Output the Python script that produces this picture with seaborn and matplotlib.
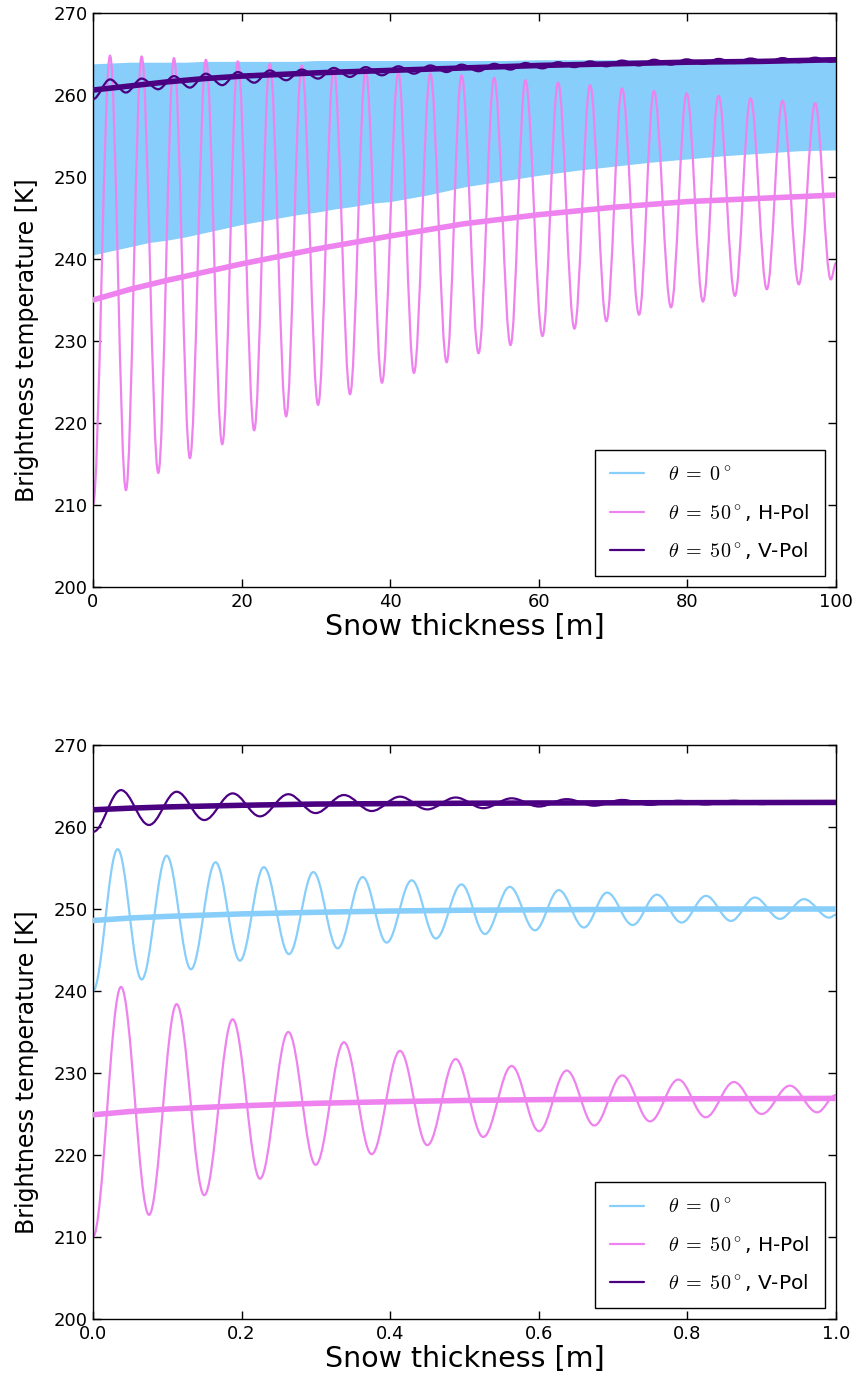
import numpy as np
import matplotlib
matplotlib.use("Agg")
import matplotlib.pyplot as plt
import seaborn as sns
from matplotlib.lines import Line2D
from matplotlib.path import Path
from matplotlib.patches import PathPatch

# ---------------- data: top panel (0-100 m) ----------------
top_peak_x = [2.3, 6.55, 10.9, 15.2, 19.5, 23.8, 28.1, 32.4, 36.7, 41.1, 45.4, 49.6,
              54.0, 58.2, 62.6, 66.9, 71.2, 75.5, 79.9, 84.2, 88.5, 92.8, 97.2]
top_trough_x = [4.44, 8.79, 13.05, 17.4, 21.7, 26.0, 30.3, 34.6, 38.9, 43.2, 47.6, 51.9,
                56.2, 60.5, 64.8, 69.1, 73.5, 77.8, 82.1, 86.4, 90.7, 95.0, 99.3]
top_h_peak = [264.8, 264.7, 264.5, 264.3, 264.1, 263.8, 263.6, 263.3, 263.0, 262.8, 262.6, 262.4,
              262.1, 261.8, 261.5, 261.2, 260.8, 260.5, 260.2, 259.9, 259.6, 259.3, 259.0]
top_h_trough = [211.8, 213.9, 215.7, 217.4, 219.1, 220.8, 222.2, 223.5, 224.9, 226.1, 227.4, 228.5,
                229.5, 230.6, 231.5, 232.4, 233.2, 234.1, 234.8, 235.5, 236.3, 236.9, 237.5]
top_h_ends = [210.0, 239.5]
top_v_peak = [261.9, 262.0, 262.3, 262.6, 262.8, 263.0, 263.1, 263.3, 263.4, 263.5, 263.6, 263.7,
              263.8, 263.9, 264.0, 264.1, 264.2, 264.3, 264.35, 264.4, 264.45, 264.5, 264.55]
top_v_trough = [260.3, 260.7, 260.9, 261.2, 261.5, 261.8, 262.0, 262.2, 262.4, 262.6, 262.8, 262.9,
                263.1, 263.25, 263.4, 263.5, 263.6, 263.7, 263.8, 263.9, 263.95, 264.0, 264.05]
top_v_ends = [259.5, 264.1]

top_smooth_x = [0, 5, 10, 15, 20, 25, 30, 35, 40, 50, 60, 70, 80, 90, 100]
top_h_smooth = [235.0, 236.3, 237.4, 238.4, 239.4, 240.3, 241.2, 242.0, 242.8, 244.3, 245.4,
                246.3, 247.0, 247.4, 247.8]
top_v_smooth = [260.6, 261.1, 261.6, 262.0, 262.3, 262.5, 262.7, 262.85, 263.0, 263.3, 263.6,
                263.8, 264.0, 264.1, 264.3]

top_band_x = [0, 2.5, 5, 7.5, 10, 12.5, 15, 17.5, 20, 22.5, 25, 27.5, 30, 32.5, 35, 37.5, 40,
              45, 50, 55, 60, 65, 70, 75, 80, 85, 90, 95, 100]
top_band_low = [240.5, 241.0, 241.5, 242.0, 242.3, 242.7, 243.2, 243.7, 244.2, 244.6, 245.0,
                245.4, 245.7, 246.1, 246.4, 246.8, 247.0, 247.8, 248.8, 249.5, 250.2, 250.8,
                251.3, 251.8, 252.2, 252.6, 252.9, 253.2, 253.3]
top_band_high = [263.8, 263.9, 264.0, 264.0, 264.0, 264.0, 264.1, 264.1, 264.1, 264.1, 264.1,
                 264.1, 264.2, 264.2, 264.2, 264.2, 264.2, 264.2, 264.2, 264.2, 264.3, 264.3,
                 264.3, 264.3, 264.3, 264.3, 264.3, 264.3, 264.3]

# ---------------- data: bottom panel (0-1 m) ----------------
bot_b_peak_x = [0.0332, 0.0992, 0.165, 0.230, 0.2966, 0.363, 0.429, 0.496, 0.561, 0.627,
                0.692, 0.759, 0.825, 0.891, 0.957]
bot_b_peak = [257.3, 256.5, 255.7, 255.1, 254.5, 253.9, 253.5, 253.0, 252.7, 252.3, 252.0,
              251.75, 251.6, 251.4, 251.2]
bot_b_trough_x = [0.0655, 0.1319, 0.1978, 0.2638, 0.3293, 0.3953, 0.4616, 0.5276, 0.5949,
                  0.6608, 0.7264, 0.7923, 0.8587, 0.9246, 0.991]
bot_b_trough = [241.4, 242.65, 243.7, 244.5, 245.2, 245.9, 246.4, 246.95, 247.4, 247.75,
                248.05, 248.35, 248.55, 248.8, 248.95]
bot_b_ends = [240.0, 249.3]

bot_50_peak_x = [0.0377, 0.1126, 0.188, 0.2629, 0.3378, 0.4132, 0.4882, 0.5635, 0.6376,
                 0.7124, 0.7878, 0.8627, 0.938]
bot_50_trough_x = [0.0754, 0.1498, 0.2248, 0.2997, 0.3751, 0.450, 0.5253, 0.6003, 0.6747,
                   0.7497, 0.8246, 0.9, 0.9748]
bot_h_peak = [240.5, 238.4, 236.55, 235.0, 233.75, 232.7, 231.7, 230.85, 230.3, 229.7, 229.2,
              228.9, 228.45]
bot_h_trough = [212.7, 215.1, 217.1, 218.8, 220.1, 221.2, 222.2, 222.9, 223.6, 224.1, 224.6,
                225.0, 225.2]
bot_h_ends = [210.0, 227.3]
bot_v_peak = [264.5, 264.3, 264.1, 264.0, 263.9, 263.7, 263.6, 263.5, 263.4, 263.3, 263.2,
              263.2, 263.1]
bot_v_trough = [260.25, 260.85, 261.3, 261.7, 261.95, 262.15, 262.3, 262.5, 262.6, 262.7,
                262.75, 262.8, 262.85]
bot_v_ends = [259.4, 262.9]

bot_smooth_x = [0, 0.05, 0.1, 0.2, 0.3, 0.4, 0.5, 0.6, 0.8, 1.0]
bot_b_smooth = [248.6, 248.9, 249.1, 249.4, 249.6, 249.75, 249.85, 249.9, 250.0, 250.0]
bot_h_smooth = [224.9, 225.3, 225.6, 226.0, 226.3, 226.5, 226.65, 226.75, 226.85, 226.9]
bot_v_smooth = [262.1, 262.3, 262.45, 262.65, 262.8, 262.85, 262.9, 262.93, 262.97, 263.0]

legend_labels = [r'$\theta\;=\;0^\circ$', r'$\theta\;=\;50^\circ$, H-Pol',
                 r'$\theta\;=\;50^\circ$, V-Pol']
y_ticks = [200, 210, 220, 230, 240, 250, 260, 270]
top_x_ticks = [0, 20, 40, 60, 80, 100]
bot_x_ticks = [0.0, 0.2, 0.4, 0.6, 0.8, 1.0]

C_BLUE = '#87CEFA'
C_PINK = '#EE82EE'
C_PURP = '#4B0082'


def oscillation(x_end, peak_x, peak_y, trough_x, trough_y, ends):
    xs = [0.0]
    ys = [ends[0]]
    for px, py, tx, ty in zip(peak_x, peak_y, trough_x, trough_y):
        xs += [px, tx]
        ys += [py, ty]
    xs.append(x_end)
    ys.append(ends[1])
    return np.array(xs), np.array(ys)


def draw_wave(ax, xs, ys, color, lw, zorder):
    """Draw the extrema series as a smooth curve (Bezier path in data coords)."""
    verts = [(xs[0], ys[0])]
    codes = [Path.MOVETO]
    for i in range(len(xs) - 1):
        dx = xs[i + 1] - xs[i]
        verts += [(xs[i] + 0.36 * dx, ys[i]), (xs[i + 1] - 0.36 * dx, ys[i + 1]),
                  (xs[i + 1], ys[i + 1])]
        codes += [Path.CURVE4] * 3
    ax.add_patch(PathPatch(Path(verts, codes), fill=False, edgecolor=color, lw=lw,
                           zorder=zorder, capstyle='round', joinstyle='round'))


sns.set_theme(style='white')
plt.rcParams['font.family'] = ['DejaVu Sans']
plt.rcParams['mathtext.fontset'] = 'cm'
plt.rcParams['xtick.direction'] = 'in'
plt.rcParams['ytick.direction'] = 'in'
plt.rcParams['text.color'] = 'black'
plt.rcParams['axes.labelcolor'] = 'black'

fig = plt.figure(figsize=(8.56, 13.83), dpi=100)
ax1 = fig.add_axes([0.1086, 0.5756, 0.868, 0.415])
ax2 = fig.add_axes([0.1086, 0.0463, 0.868, 0.415])

THIN = 1.6
THICK = 4.0

# top panel
ax1.fill_between(top_band_x, top_band_low, top_band_high, color=C_BLUE, lw=0, zorder=1)
hx, hy = oscillation(100, top_peak_x, top_h_peak, top_trough_x, top_h_trough, top_h_ends)
draw_wave(ax1, hx, hy, C_PINK, THIN, 2)
sns.lineplot(x=top_smooth_x, y=top_h_smooth, ax=ax1, color=C_PINK, lw=THICK, zorder=3)
vx, vy = oscillation(100, top_peak_x, top_v_peak, top_trough_x, top_v_trough, top_v_ends)
sns.lineplot(x=top_smooth_x, y=top_v_smooth, ax=ax1, color=C_PURP, lw=THICK, zorder=4)
draw_wave(ax1, vx, vy, C_PURP, THIN, 5)

# bottom panel
bx, by = oscillation(1.0, bot_b_peak_x, bot_b_peak, bot_b_trough_x, bot_b_trough, bot_b_ends)
draw_wave(ax2, bx, by, C_BLUE, THIN, 2)
sns.lineplot(x=bot_smooth_x, y=bot_b_smooth, ax=ax2, color=C_BLUE, lw=THICK, zorder=3)
hx2, hy2 = oscillation(1.0, bot_50_peak_x, bot_h_peak, bot_50_trough_x, bot_h_trough, bot_h_ends)
draw_wave(ax2, hx2, hy2, C_PINK, THIN, 2)
sns.lineplot(x=bot_smooth_x, y=bot_h_smooth, ax=ax2, color=C_PINK, lw=THICK, zorder=3)
vx2, vy2 = oscillation(1.0, bot_50_peak_x, bot_v_peak, bot_50_trough_x, bot_v_trough, bot_v_ends)
draw_wave(ax2, vx2, vy2, C_PURP, THIN, 4)
sns.lineplot(x=bot_smooth_x, y=bot_v_smooth, ax=ax2, color=C_PURP, lw=THICK, zorder=5)

handles = [Line2D([], [], color=c, lw=THIN) for c in (C_BLUE, C_PINK, C_PURP)]

for ax, xt, xlim in ((ax1, top_x_ticks, (0, 100)), (ax2, bot_x_ticks, (0, 1.0))):
    ax.set_xlim(*xlim)
    ax.set_ylim(200, 270)
    ax.set_xticks(xt)
    ax.set_yticks(y_ticks)
    if ax is ax2:
        ax.set_xticklabels([f'{v:.1f}' for v in xt])
    ax.tick_params(axis='both', which='both', direction='in', length=6, width=1,
                   top=True, right=True, bottom=True, left=True, labelsize=13,
                   colors='black', pad=4)
    for s in ax.spines.values():
        s.set_visible(True)
        s.set_color('black')
        s.set_linewidth(1.0)
    ax.set_xlabel('Snow thickness [m]', fontsize=20.5, labelpad=2)
    ax.set_ylabel('Brightness temperature [K]', fontsize=17)
    ax.yaxis.set_label_coords(-0.072, 0.43)
    leg = ax.legend(handles, legend_labels, loc='lower right', fontsize=14.5,
                    fancybox=False, framealpha=1, edgecolor='black', handlelength=1.7,
                    borderaxespad=0.55, borderpad=0.75, labelspacing=0.85, handletextpad=1.2)
    leg.get_frame().set_linewidth(1.0)
    ax.grid(False)

fig.savefig('out.png', dpi=100)
